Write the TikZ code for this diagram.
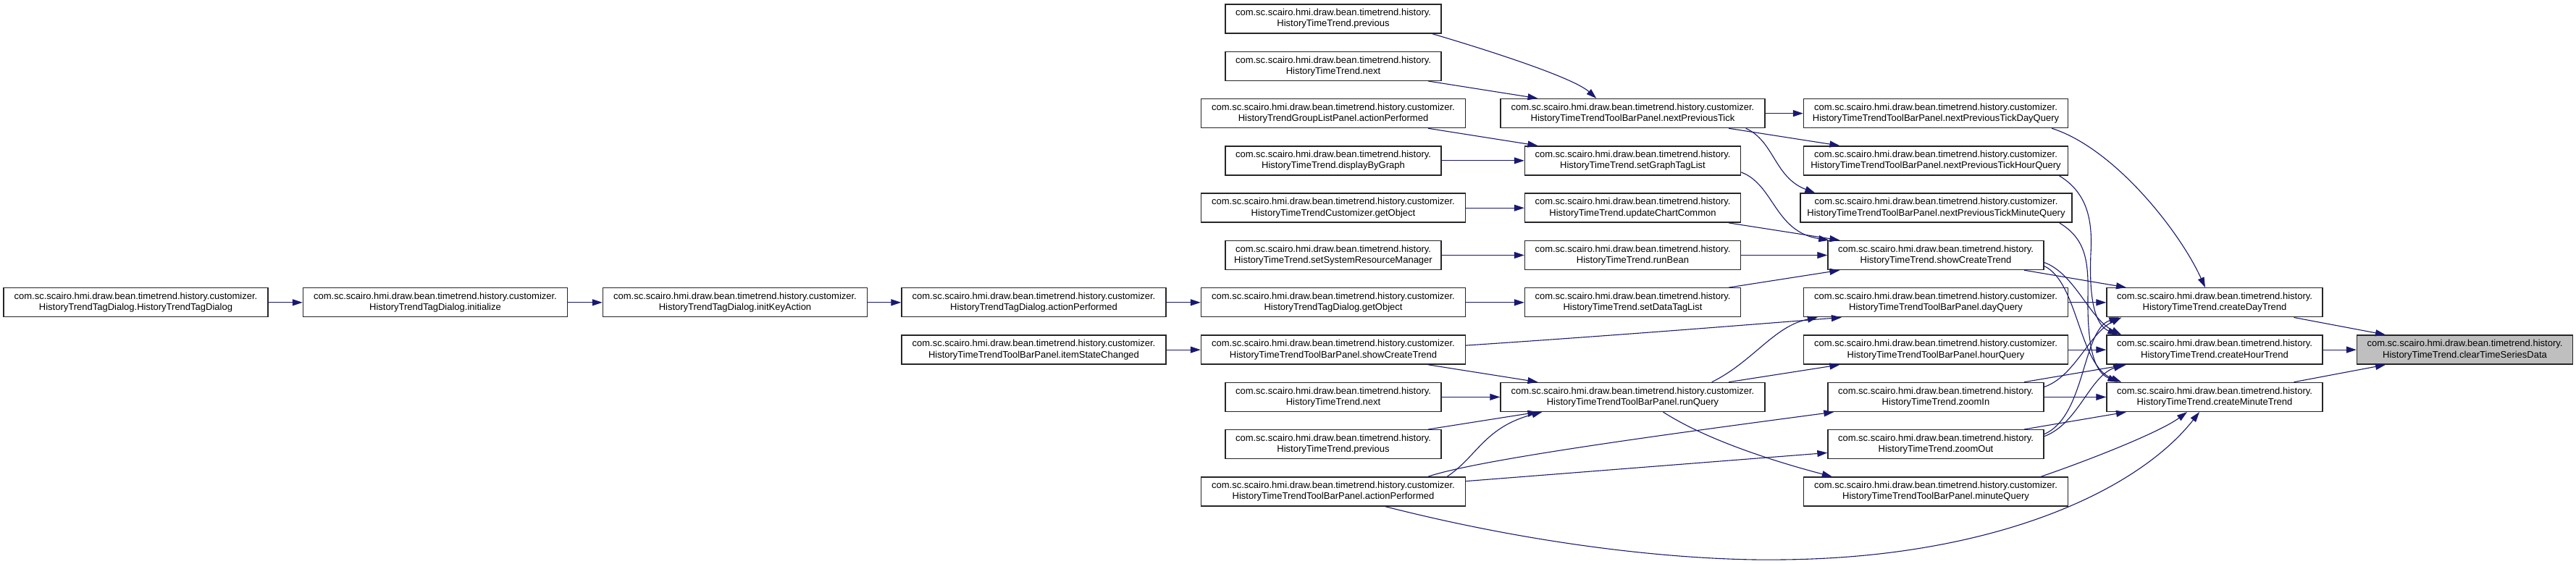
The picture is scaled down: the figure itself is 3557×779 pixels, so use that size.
\documentclass[tikz,border=0pt]{standalone}
\usepackage{fontspec}
\setmainfont{Liberation Sans}
\usetikzlibrary{arrows.meta,calc}
\definecolor{edgeblue}{HTML}{191970}
\definecolor{rootgray}{HTML}{BFBFBF}
\newcommand{\PrefH}{com.sc.scairo.hmi.draw.bean.timetrend.history.}
\newcommand{\PrefC}{com.sc.scairo.hmi.draw.bean.timetrend.history.customizer.}
\begin{document}
\begin{tikzpicture}[x=0.5pt,y=-0.5pt,
  box/.style={draw=black!85, line width=0.7pt, fill=white, inner sep=0pt, minimum height=20pt, align=center, font=\fontsize{6.5}{7.6}\selectfont},
  cbox/.style={box, minimum width=182.5pt},
  hbox/.style={box, minimum width=149pt},
  mbox/.style={box, minimum width=187.5pt},
  edge/.style={draw=edgeblue, line width=0.55pt, -{Triangle[length=7pt,width=4.5pt]}}]
\useasboundingbox (0,0) rectangle (3557,779);
% column 0-3
\node[cbox] (n1) at (187.5,417.8) {\PrefC\\HistoryTrendTagDialog.HistoryTrendTagDialog};
\node[cbox] (n2) at (601,417.8) {\PrefC\\HistoryTrendTagDialog.initialize};
\node[cbox] (n3) at (1015,417.8) {\PrefC\\HistoryTrendTagDialog.initKeyAction};
\node[cbox] (n4) at (1427.5,417.8) {\PrefC\\HistoryTrendTagDialog.actionPerformed};
\node[cbox] (n5) at (1427.5,483.1) {\PrefC\\HistoryTimeTrendToolBarPanel.itemStateChanged};
% column 4
\node[hbox] (p1) at (1841,26) {\PrefH\\HistoryTimeTrend.previous};
\node[hbox] (p2) at (1841,91.3) {\PrefH\\HistoryTimeTrend.next};
\node[cbox] (p3) at (1841,156.6) {\PrefC\\HistoryTrendGroupListPanel.actionPerformed};
\node[hbox] (p4) at (1841,221.9) {\PrefH\\HistoryTimeTrend.displayByGraph};
\node[cbox] (p5) at (1841,287.2) {\PrefC\\HistoryTimeTrendCustomizer.getObject};
\node[hbox] (p6) at (1841,352.5) {\PrefH\\HistoryTimeTrend.setSystemResourceManager};
\node[cbox] (p7) at (1841,417.8) {\PrefC\\HistoryTrendTagDialog.getObject};
\node[cbox] (p8) at (1841,483.1) {\PrefC\\HistoryTimeTrendToolBarPanel.showCreateTrend};
\node[hbox] (p9) at (1841,548.4) {\PrefH\\HistoryTimeTrend.next};
\node[hbox] (p10) at (1841,613.7) {\PrefH\\HistoryTimeTrend.previous};
\node[cbox] (p11) at (1841,679) {\PrefC\\HistoryTimeTrendToolBarPanel.actionPerformed};
% column 5
\node[cbox] (q1) at (2254.5,156.6) {\PrefC\\HistoryTimeTrendToolBarPanel.nextPreviousTick};
\node[hbox] (q2) at (2254.5,221.9) {\PrefH\\HistoryTimeTrend.setGraphTagList};
\node[hbox] (q3) at (2254.5,287.2) {\PrefH\\HistoryTimeTrend.updateChartCommon};
\node[hbox] (q4) at (2254.5,352.5) {\PrefH\\HistoryTimeTrend.runBean};
\node[hbox] (q5) at (2254.5,417.8) {\PrefH\\HistoryTimeTrend.setDataTagList};
\node[cbox] (q6) at (2254.5,548.4) {\PrefC\\HistoryTimeTrendToolBarPanel.runQuery};
% column 6
\node[cbox] (s1) at (2673,156.6) {\PrefC\\HistoryTimeTrendToolBarPanel.nextPreviousTickDayQuery};
\node[cbox] (s2) at (2673,221.9) {\PrefC\\HistoryTimeTrendToolBarPanel.nextPreviousTickHourQuery};
\node[mbox] (s3) at (2673.5,287.2) {\PrefC\\HistoryTimeTrendToolBarPanel.nextPreviousTickMinuteQuery};
\node[hbox] (s4) at (2673,352.5) {\PrefH\\HistoryTimeTrend.showCreateTrend};
\node[cbox] (s5) at (2673,417.8) {\PrefC\\HistoryTimeTrendToolBarPanel.dayQuery};
\node[cbox] (s6) at (2673,483.1) {\PrefC\\HistoryTimeTrendToolBarPanel.hourQuery};
\node[hbox] (s7) at (2673,548.4) {\PrefH\\HistoryTimeTrend.zoomIn};
\node[hbox] (s8) at (2673,613.7) {\PrefH\\HistoryTimeTrend.zoomOut};
\node[cbox] (s9) at (2673,679) {\PrefC\\HistoryTimeTrendToolBarPanel.minuteQuery};
% column 7-8
\node[hbox] (t1) at (3058,417.8) {\PrefH\\HistoryTimeTrend.createDayTrend};
\node[hbox] (t2) at (3058,483.1) {\PrefH\\HistoryTimeTrend.createHourTrend};
\node[hbox] (t3) at (3058,548.4) {\PrefH\\HistoryTimeTrend.createMinuteTrend};
\node[hbox, fill=rootgray] (root) at (3403.5,483.1) {\PrefH\\HistoryTimeTrend.clearTimeSeriesData};
% edges
\draw[edge] (n1) -- (n2);
\draw[edge] (n2) -- (n3);
\draw[edge] (n3) -- (n4);
\draw[edge] (n4) -- (p7);
\draw[edge] (n5) -- (p8);
\draw[edge] (p7) -- (q5);
\draw[edge] ($(p1.south east)+(-13,0)$) .. controls (2030,62) and (2170,105) .. ($(q1.north west)+(133,0)$);
\draw[edge] (p2) -- (q1);
\draw[edge] (p3) -- (q2);
\draw[edge] (p4) -- (q2);
\draw[edge] (p5) -- (q3);
\draw[edge] (p6) -- (q4);
\draw[edge] (q1) -- (s1);
\draw[edge] (q1) -- (s2);
\draw[edge] ($(q1.south east)+(-27,0)$) .. controls (2450,195) and (2450,245) .. ($(s3.north west)+(21,0)$);
\draw[edge] ($(q2.east)+(0,16)$) .. controls (2450,255) and (2450,320) .. ($(s4.north west)+(2,0)$);
\draw[edge] (q3) -- (s4);
\draw[edge] (q4) -- (s4);
\draw[edge] (q5) -- (s4);
\draw[edge] ($(p8.east)+(0,-6)$) .. controls (2250,462) and (2420,448) .. ($(s5.south west)+(53,0)$);
\draw[edge] (p8) -- (q6);
\draw[edge] (p9) -- (q6);
\draw[edge] (p10) -- (q6);
\draw[edge] ($(p11.north east)+(-26,0)$) .. controls (2040,630) and (2050,590) .. ($(q6.south west)+(58,0)$);
\draw[edge] ($(p11.north west)+(314,0)$) .. controls (2040,635) and (2300,600) .. ($(s7.south west)+(9,0)$);
\draw[edge] (p11) -- (s8);
\draw[edge] (q6) -- (s6);
\draw[edge] ($(q6.north east)+(-74,0)$) .. controls (2420,500) and (2450,450) .. ($(s5.south west)+(20,0)$);
\draw[edge] ($(q6.south)+(42,0)$) .. controls (2360,610) and (2460,640) .. ($(s9.north west)+(40,0)$);
\draw[edge] ($(s1.south east)+(-23,0)$) .. controls (2920,205) and (3010,320) .. ($(t1.north)+(-13,0)$);
\draw[edge] ($(s2.south east)+(-13,0)$) .. controls (2880,265) and (2890,300) .. (2887,350) .. controls (2884,420) and (2895,450) .. ($(t2.north west)+(16,0)$);
\draw[edge] ($(s3.south east)+(-18,0)$) .. controls (2880,330) and (2884,360) .. (2883,410) .. controls (2882,490) and (2895,515) .. ($(t3.north west)+(16,0)$);
\draw[edge] (s4) -- (t1);
\draw[edge] ($(s4.east)+(0,10)$) .. controls (2865,378) and (2885,440) .. ($(t2.north west)+(21,0)$);
\draw[edge] ($(s4.east)+(0,15)$) .. controls (2870,390) and (2870,505) .. ($(t3.north west)+(21,0)$);
\draw[edge] (s5) -- (t1);
\draw[edge] (s6) -- (t2);
\draw[edge] (s7) -- (t3);
\draw[edge] ($(s7.east)+(0,-14)$) .. controls (2865,520) and (2885,460) .. ($(t1.south west)+(21,0)$);
\draw[edge] (s7) -- (t2);
\draw[edge] ($(s8.east)+(0,-14)$) .. controls (2880,575) and (2875,455) .. ($(t1.south west)+(18,0)$);
\draw[edge] ($(s8.east)+(0,-11)$) .. controls (2870,585) and (2885,520) .. ($(t2.south west)+(24,0)$);
\draw[edge] (s8) -- (t3);
\draw[edge] ($(s9.north east)+(-38,0)$) .. controls (2900,630) and (2985,595) .. ($(t3.south)+(-38,0)$);
\draw[edge] ($(p11.south)+(72,0)$) .. controls (2150,760) and (2350,775) .. (2462,773) .. controls (2750,770) and (2950,680) .. ($(t3.south)+(-21,0)$);
\draw[edge] (t1) -- (root);
\draw[edge] (t2) -- (root);
\draw[edge] (t3) -- (root);
\end{tikzpicture}
\end{document}
